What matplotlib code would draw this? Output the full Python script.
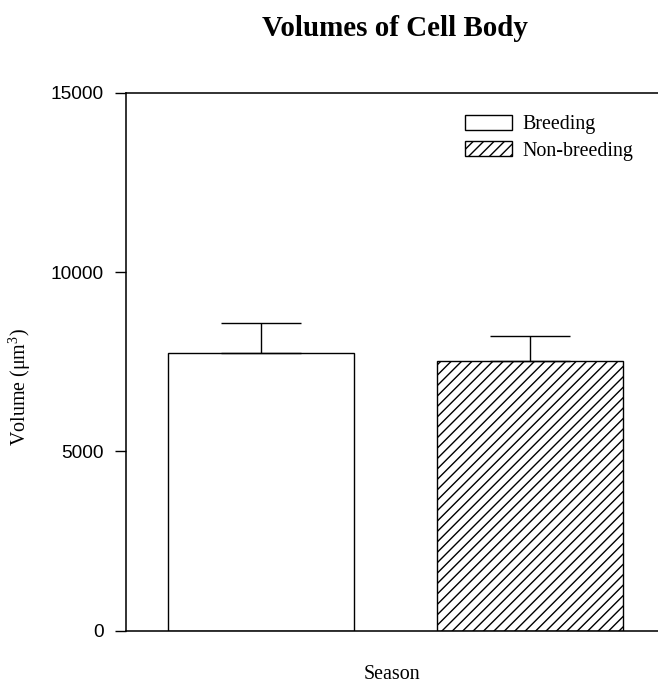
import matplotlib
matplotlib.use("Agg")
import matplotlib.pyplot as plt

# Mean cell-body volume per season, with upper SEM
seasons = ["Breeding", "Non-breeding"]
volumes = [7740, 7530]
sem = [845, 688]
hatches = ["", "////"]
yticks = [0, 5000, 10000, 15000]

DPI = 125
plt.rcParams["hatch.linewidth"] = 0.8
plt.rcParams["hatch.color"] = "black"

fig = plt.figure(figsize=(658 / DPI, 685 / DPI), dpi=DPI)
ax = fig.add_axes([126 / 658, 54.3 / 685, 1 - 126 / 658, 538 / 685])

serif = "Liberation Serif"
sans = "Liberation Sans"

positions = list(range(len(seasons)))
for pos, val, err, h, name in zip(positions, volumes, sem, hatches, seasons):
    ax.bar(pos, val, width=0.691, color="white", edgecolor="black",
           linewidth=0.8, hatch=h, label=name, zorder=2)
    ax.errorbar(pos, val, yerr=[[0], [err]], fmt="none", ecolor="black",
                elinewidth=0.8, capsize=23, capthick=0.8, zorder=3)

ax.set_xlim(-0.502, 1.476)
ax.set_ylim(0, 15000)
ax.set_yticks(yticks)
ax.set_yticklabels([str(t) for t in yticks], fontfamily=sans, fontsize=11)
ax.set_xticks([])
ax.tick_params(axis="y", direction="out", length=6.3, width=0.8, pad=6.5)

for side in ("left", "top", "bottom"):
    ax.spines[side].set_linewidth(0.9)
    ax.spines[side].set_color("black")
ax.spines["right"].set_visible(False)

ax.set_xlabel("Season", fontfamily=serif, fontsize=11.5, labelpad=20)
ax.set_ylabel(r"Volume ($\mathregular{\mu m^3}$)", fontfamily=serif, fontsize=11.5)
ax.yaxis.set_label_coords(-0.175, 0.453)

fig.text(0.6, 1 - 36 / 685, "Volumes of Cell Body", fontfamily=serif,
         fontsize=16.7, fontweight="bold", ha="center", va="baseline")

ax.legend(loc="upper left", bbox_to_anchor=(465 / 658, 1 - 115 / 685),
          bbox_transform=fig.transFigure, frameon=False, borderpad=0,
          borderaxespad=0, handlelength=2.35, handleheight=0.75,
          handletextpad=0.55, labelspacing=0.35,
          prop={"family": serif, "size": 11.5})

fig.savefig("out.png", dpi=DPI)
